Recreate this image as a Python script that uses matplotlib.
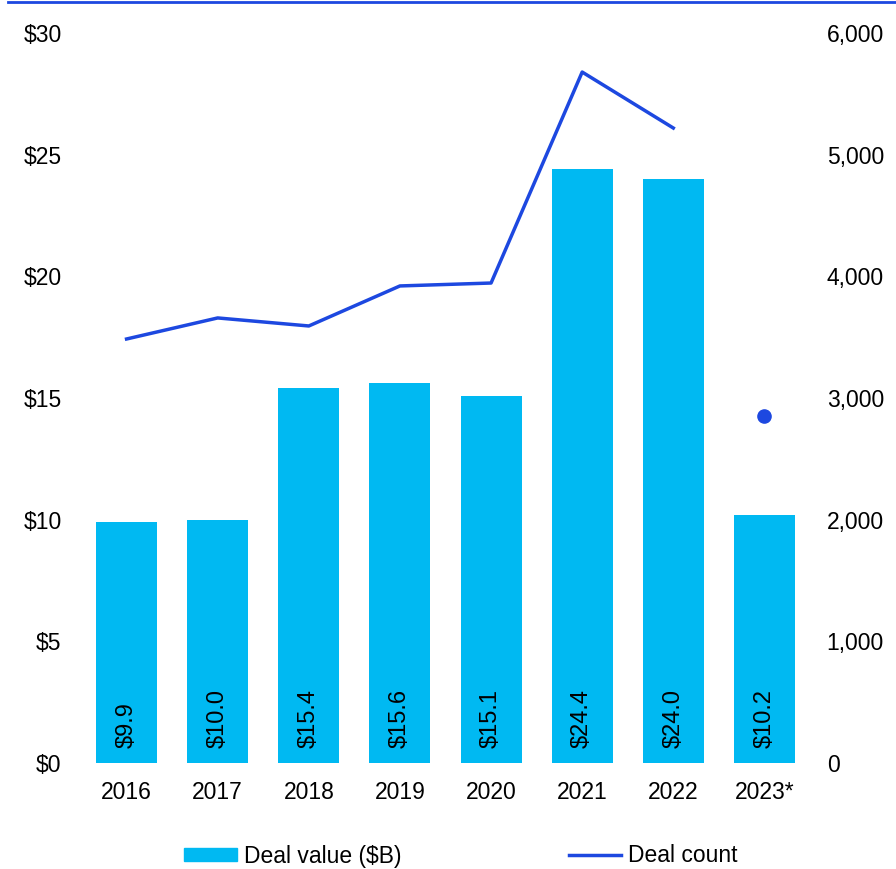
import matplotlib.pyplot as plt
from matplotlib.lines import Line2D
from matplotlib.patches import Patch

plt.rcParams['font.family'] = ['Liberation Sans', 'DejaVu Sans']

years = ['2016', '2017', '2018', '2019', '2020', '2021', '2022', '2023*']
deal_value = [9.9, 10.0, 15.4, 15.6, 15.1, 24.4, 24.0, 10.2]
deal_count = [3485, 3658, 3592, 3921, 3945, 5679, 5219]
deal_count_2023 = 2852

bar_color = '#00B9F2'
line_color = '#1D48E0'

fig = plt.figure(figsize=(8.96, 8.69), dpi=100)
ax = fig.add_axes([81 / 896, 1 - 763 / 869, 729 / 896, 730 / 869])
ax2 = ax.twinx()

x = list(range(len(years)))
ax.bar(x, deal_value, width=0.67, color=bar_color)
for xi, v in zip(x, deal_value):
    ax.annotate('$%.1f' % v, (xi, 0), xytext=(0, 15), textcoords='offset pixels',
                rotation=90, ha='center', va='bottom', fontsize=17)

ax2.plot(x[:len(deal_count)], deal_count, color=line_color, lw=2.5)
ax2.plot([x[-1]], [deal_count_2023], 'o', color=line_color, ms=9.5)

ax.set_xlim(-0.5, 7.5)
ax.set_ylim(0, 30)
ax2.set_ylim(0, 6000)
ax.set_yticks(range(0, 31, 5))
ax.set_yticklabels(['$%d' % t for t in range(0, 31, 5)])
ax2.set_yticks(range(0, 6001, 1000))
ax2.set_yticklabels(['{:,}'.format(t) for t in range(0, 6001, 1000)])
ax.set_xticks(x)
ax.set_xticklabels(years)

for a in (ax, ax2):
    for s in a.spines.values():
        s.set_visible(False)
    a.tick_params(length=0, labelsize=16.5)
ax.tick_params(axis='y', pad=14)
ax.tick_params(axis='x', pad=13)
ax2.tick_params(axis='y', pad=12)

handles = [Patch(color=bar_color), Line2D([], [], color=line_color, lw=2.5)]
fig.legend(handles, ['Deal value ($B)', 'Deal count'], loc='center',
           bbox_to_anchor=(461 / 896, 1 - 856 / 869), ncol=2, frameon=False,
           fontsize=16.5, handlelength=2.3, handletextpad=0.3, columnspacing=7.3,
           handleheight=0.5)

fig.add_artist(Line2D([8 / 896, 1], [1 - 2 / 869, 1 - 2 / 869], color=line_color, lw=2))

plt.savefig('out.png', dpi=100)
